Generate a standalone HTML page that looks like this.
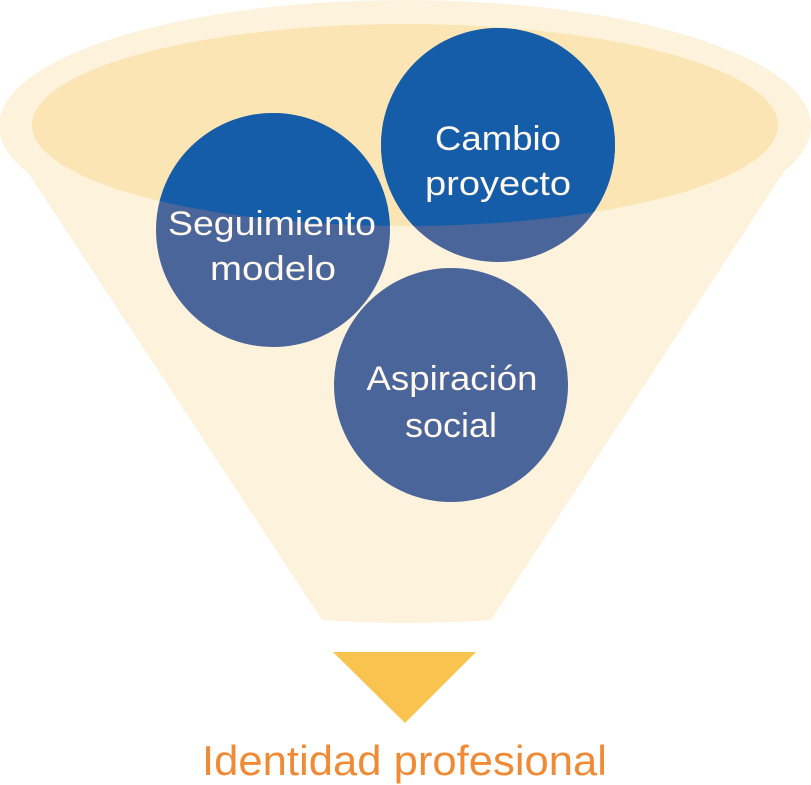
<!DOCTYPE html>
<html><head><meta charset="utf-8"><style>html,body{margin:0;padding:0;background:#fff}svg{display:block}</style></head>
<body>
<svg width="811" height="785" viewBox="0 0 811 785" xmlns="http://www.w3.org/2000/svg">
<defs><clipPath id="ie"><ellipse cx="405" cy="125" rx="373" ry="101"/></clipPath></defs>
<ellipse cx="405" cy="126" rx="406" ry="126" fill="#FDF2DC"/>
<path d="M0,130 L811,130 L491,620 Q405,626 322,620 Z" fill="#FDF2DC"/>
<ellipse cx="405" cy="125" rx="373" ry="101" fill="#FCE5B4"/>
<g fill="#4A6599">
<circle cx="273" cy="230" r="117"/>
<circle cx="498" cy="145" r="117"/>
<circle cx="451" cy="385" r="117"/>
</g>
<g fill="#155DA8" clip-path="url(#ie)">
<circle cx="273" cy="230" r="117"/>
<circle cx="498" cy="145" r="117"/>
</g>
<polygon points="333,652 476,652 405,723" fill="#FAC350"/>
<g font-family="Liberation Sans, sans-serif" font-size="34" fill="#FFF8EE" text-anchor="middle">
<text x="498" y="150" textLength="126" lengthAdjust="spacingAndGlyphs">Cambio</text>
<text x="498" y="195" textLength="146" lengthAdjust="spacingAndGlyphs">proyecto</text>
<text x="272" y="235" textLength="208" lengthAdjust="spacingAndGlyphs">Seguimiento</text>
<text x="273" y="280" textLength="126" lengthAdjust="spacingAndGlyphs">modelo</text>
<text x="452" y="390" textLength="171" lengthAdjust="spacingAndGlyphs">Aspiración</text>
<text x="451" y="437" textLength="92" lengthAdjust="spacingAndGlyphs">social</text>
</g>
<text x="202" y="775" font-family="Liberation Sans, sans-serif" font-size="42" fill="#F08A35" textLength="405" lengthAdjust="spacingAndGlyphs">Identidad profesional</text>
</svg>
</body></html>
